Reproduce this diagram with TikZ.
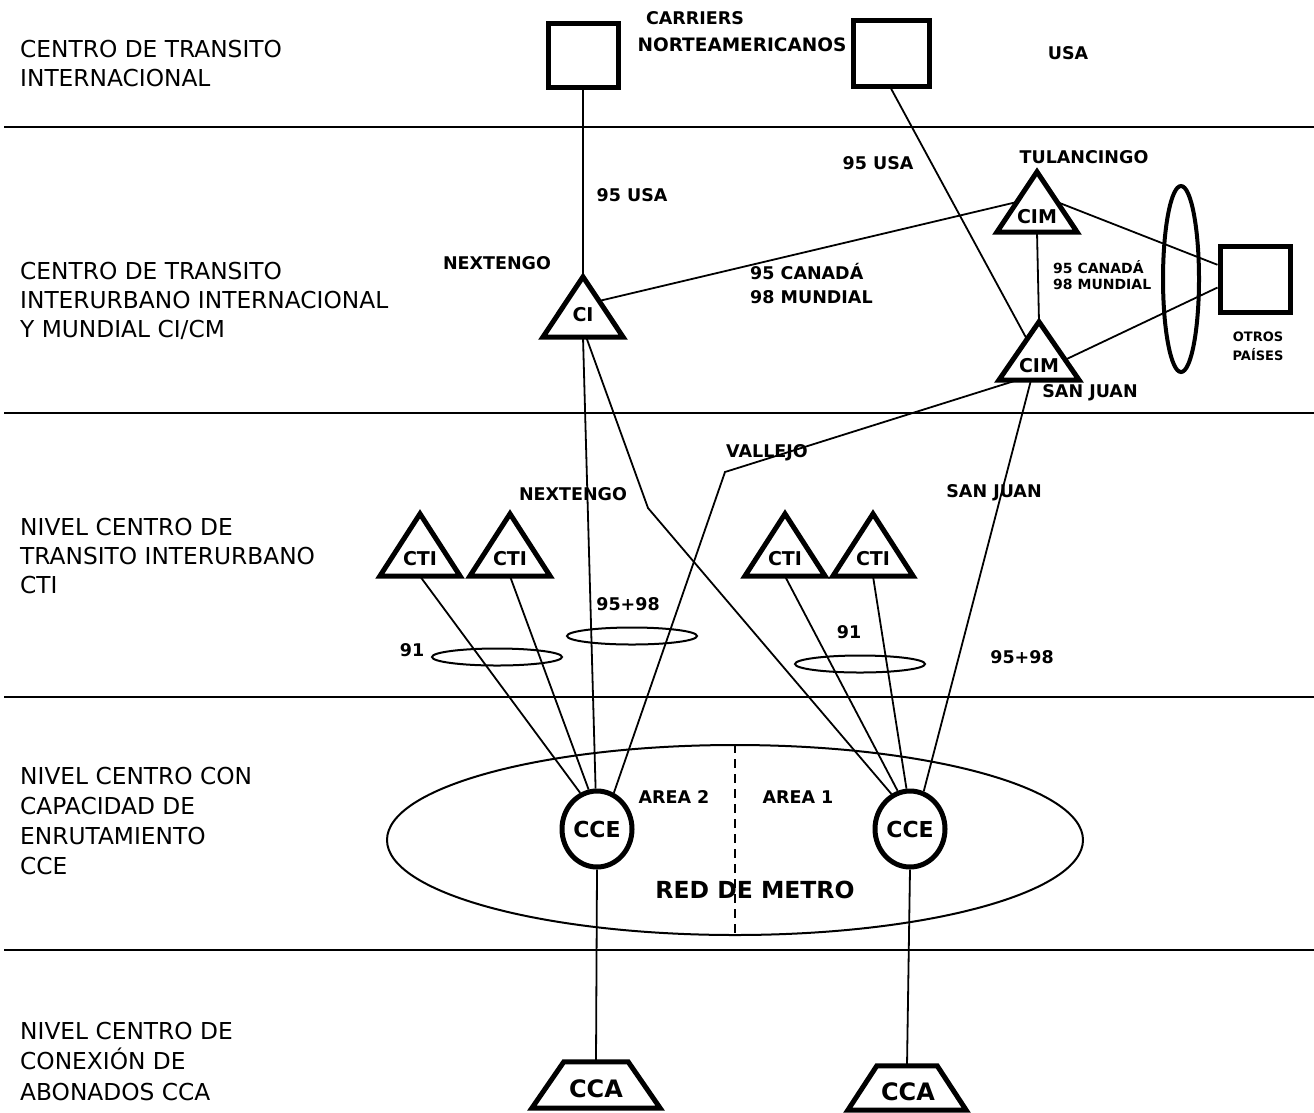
\documentclass[tikz,border=0pt]{standalone}
\usepackage{fontspec}
\setmainfont{DejaVu Sans}
\usetikzlibrary{shapes.geometric,calc}
\tikzset{
  sepline/.style={line width=2.2pt},
  conn/.style={line width=1.8pt},
  heavy/.style={line width=5pt},
  sidelbl/.style={anchor=west, align=left, inner sep=0pt, font=\fontsize{23.3}{29}\selectfont},
  blbl/.style={inner sep=0pt, font=\bfseries\fontsize{17.5}{21}\selectfont},
  smlbl/.style={inner sep=0pt, anchor=west, font=\bfseries\fontsize{14}{17}\selectfont},
  tinylbl/.style={inner sep=0pt, font=\bfseries\fontsize{13}{15}\selectfont},
  tribox/.style={inner sep=0pt, minimum width=80pt, minimum height=60pt},
  trilbl/.style={inner sep=0pt, font=\bfseries\fontsize{19}{22}\selectfont},
  boxnode/.style={draw, heavy, inner sep=0pt, minimum width=70pt, minimum height=64pt},
  ccenode/.style={draw, heavy, ellipse, inner sep=0pt, minimum width=70pt, minimum height=76pt, font=\bfseries\fontsize{22}{26}\selectfont},
  smallell/.style={draw, line width=2pt, ellipse, inner sep=0pt, minimum width=130pt, minimum height=17pt},
  trapbox/.style={inner sep=0pt, minimum width=126pt, minimum height=46pt},
  ccalbl/.style={inner sep=0pt, font=\bfseries\fontsize{24}{28}\selectfont},
  shapeline/.style={heavy, line join=miter},
}
\begin{document}
\begin{tikzpicture}[x=1pt,y=-1pt]
\useasboundingbox (0,0) rectangle (1314,1112);
% level separators
\draw[sepline] (4,127) -- (1314,127);
\draw[sepline] (4,413) -- (1314,413);
\draw[sepline] (4,697) -- (1314,697);
\draw[sepline] (4,950) -- (1314,950);

% side labels
\node[sidelbl] (l1) at (20,64) {CENTRO DE TRANSITO\\INTERNACIONAL};
\node[sidelbl] (l2) at (20,301) {CENTRO DE TRANSITO\\INTERURBANO INTERNACIONAL\\Y MUNDIAL CI/CM};
\node[sidelbl] (l3) at (20,556) {NIVEL CENTRO DE\\TRANSITO INTERURBANO\\CTI};
\node[sidelbl, font=\fontsize{23.3}{30}\selectfont] (l4) at (20,821) {NIVEL CENTRO CON\\CAPACIDAD DE\\ENRUTAMIENTO\\CCE};
\node[sidelbl, font=\fontsize{23.3}{30.5}\selectfont] (l5) at (20,1061) {NIVEL CENTRO DE\\CONEXIÓN DE\\ABONADOS CCA};

% boxes
\node[boxnode] (boxL) at (583,55) {};
\node[boxnode, minimum width=76pt, minimum height=66pt] (boxR) at (891,53) {};
\node[boxnode, minimum width=70pt, minimum height=66pt] (boxO) at (1255,279) {};
\node[draw, ellipse, line width=4pt, minimum width=36pt, minimum height=186pt, inner sep=0pt] (tall) at (1181,279) {};

% triangles
\node[tribox] (ci) at (583,307) {};
\node[tribox] (cimt) at (1037,202) {};
\node[tribox, minimum height=58pt] (cimsj) at (1039,351) {};
\node[tribox, minimum height=62pt] (cti1) at (420,545) {};
\node[tribox, minimum height=62pt] (cti2) at (510,545) {};
\node[tribox, minimum height=62pt] (cti3) at (785,545) {};
\node[tribox, minimum height=62pt] (cti4) at (873,545) {};
\foreach \t in {ci,cimt,cimsj,cti1,cti2,cti3,cti4}{
  \draw[shapeline] (\t.south west) -- (\t.south east) -- (\t.north) -- cycle;
}
\node[trilbl] (ci-t) at (583,315) {CI};
\node[trilbl] (cimt-t) at (1037,217) {CIM};
\node[trilbl] (cimsj-t) at (1039,366) {CIM};
\node[trilbl] (cti1-t) at (420,559) {CTI};
\node[trilbl] (cti2-t) at (510,559) {CTI};
\node[trilbl] (cti3-t) at (785,559) {CTI};
\node[trilbl] (cti4-t) at (873,559) {CTI};

% metro network
\node[draw, ellipse, line width=2pt, minimum width=696pt, minimum height=190pt, inner sep=0pt] (metro) at (735,840) {};
\draw[conn, dash pattern=on 9pt off 6pt] (metro.north) -- (metro.south);
\node[ccenode] (ccel) at (597,829) {CCE};
\node[ccenode] (ccer) at (910,829) {CCE};

% CCA trapezoids
\node[trapbox, minimum width=128pt] (ccal) at (596,1085) {};
\draw[shapeline] (ccal.south west) -- (ccal.south east) -- ($(ccal.north east)+(-32,0)$) -- ($(ccal.north west)+(32,0)$) -- cycle;
\node[ccalbl] (ccal-t) at (596,1089) {CCA};
\node[trapbox, minimum width=118pt, minimum height=44pt] (ccar) at (907,1088) {};
\draw[shapeline] (ccar.south west) -- (ccar.south east) -- ($(ccar.north east)+(-29,0)$) -- ($(ccar.north west)+(29,0)$) -- cycle;
\node[ccalbl] (ccar-t) at (908,1092) {CCA};

% small ellipses
\node[smallell] (e91l) at (497,657) {};
\node[smallell] (e9598l) at (632,636) {};
\node[smallell] (e91r) at (860,664) {};

% connectors
\draw[conn] (boxL.south) -- (ci.north);
\draw[conn] (boxR.south) -- ($(cimsj.north)!0.3!(cimsj.south west)$);
\draw[conn] ($(ci.north)!0.4!(ci.south east)$) -- ($(cimt.north)!0.5!(cimt.south west)$);
\draw[conn] (cimt.south) -- (cimsj.north);
\draw[conn] ($(cimt.north)!0.5!(cimt.south east)$) -- ($(boxO.north west)!0.3!(boxO.south west)$);
\draw[conn] ($(cimsj.north)!0.65!(cimsj.south east)$) -- ($(boxO.north west)!0.62!(boxO.south west)$);
\coordinate (bendV) at (725,472);
\draw[conn] ($(cimsj.south)!0.55!(cimsj.south west)$) -- (bendV) -- (ccel.65);
\coordinate (bendN) at (648,508);
\draw[conn] ($(ci.south)!0.08!(ci.south east)$) -- (bendN) -- (ccer.118);
\draw[conn] (ci.south) -- (ccel.92);
\draw[conn] (cti1.south) -- (ccel.115);
\draw[conn] (cti2.south) -- (ccel.102);
\draw[conn] (cti3.south) -- (ccer.108);
\draw[conn] (cti4.south) -- (ccer.95);
\draw[conn] ($(cimsj.south)!0.2!(cimsj.south west)$) -- (ccer.70);
\draw[conn] (ccel.south) -- (ccal.north);
\draw[conn] (ccer.south) -- (ccar.north);

% labels
\node[blbl] (carr) at (695,18) {CARRIERS};
\node[blbl, font=\bfseries\fontsize{18.5}{21}\selectfont] (norte) at (742,45) {NORTEAMERICANOS};
\node[blbl] (usa) at (1068,53) {USA};
\node[blbl] (usa95a) at (632,195) {95 USA};
\node[blbl] (usa95b) at (878,163) {95 USA};
\node[blbl] (tul) at (1084,157) {TULANCINGO};
\node[blbl] (next1) at (497,263) {NEXTENGO};
\node[blbl, anchor=west] (can1) at (750,272) {95 CANADÁ};
\node[blbl, anchor=west] (mun1) at (750,297) {98 MUNDIAL};
\node[smlbl] (can2) at (1053,267) {95 CANADÁ};
\node[smlbl] (mun2) at (1053,284) {98 MUNDIAL};
\node[tinylbl] (otros) at (1258,337) {OTROS};
\node[tinylbl] (paises) at (1258,355) {PAÍSES};
\node[blbl] (sj1) at (1090,393) {SAN JUAN};
\node[blbl] (vall) at (767,453) {VALLEJO};
\node[blbl] (next2) at (573,494) {NEXTENGO};
\node[blbl] (sj2) at (994,493) {SAN JUAN};
\node[blbl] (p9598l) at (628,604) {95+98};
\node[blbl] (p91l) at (412,650) {91};
\node[blbl] (p91r) at (849,632) {91};
\node[blbl] (p9598r) at (1022,657) {95+98};
\node[blbl] (area2) at (674,797) {AREA 2};
\node[blbl] (area1) at (798,797) {AREA 1};
\node[inner sep=0pt, font=\bfseries\fontsize{23.5}{27}\selectfont] (red) at (755,890) {RED DE METRO};
\end{tikzpicture}
\end{document}
